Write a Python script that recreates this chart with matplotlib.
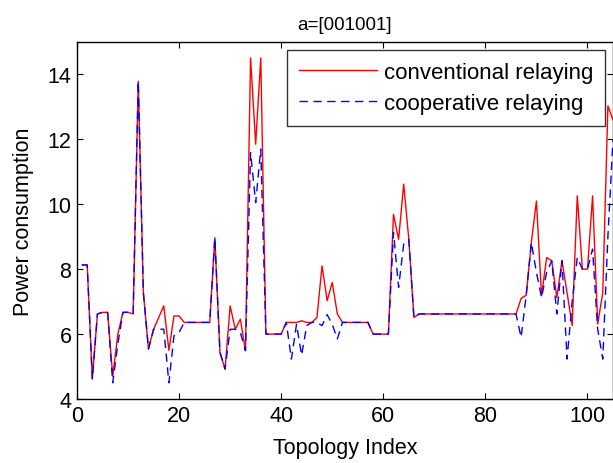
import matplotlib
matplotlib.use("Agg")
import matplotlib.pyplot as plt
import numpy as np

plt.rcParams['font.family'] = ['Liberation Sans', 'DejaVu Sans']

topology_index = list(range(1, 106))

conventional = [
    8.13, 8.13, 4.62, 6.62, 6.67, 6.67, 4.70, 6.00, 6.67, 6.67,
    6.62, 13.79, 7.28, 5.54, 6.15, 6.51, 6.87, 5.50, 6.56, 6.56,
    6.36, 6.36, 6.36, 6.36, 6.36, 6.36, 8.97, 5.44, 4.92, 6.87,
    6.15, 6.46, 5.49, 14.51, 11.85, 14.51, 6.00, 6.00, 6.00, 6.00,
    6.36, 6.36, 6.36, 6.41, 6.36, 6.36, 6.51, 8.10, 7.03, 7.59,
    6.62, 6.36, 6.36, 6.36, 6.36, 6.36, 6.36, 6.00, 6.00, 6.00,
    6.00, 9.69, 8.92, 10.62, 8.92, 6.51, 6.62, 6.62, 6.62, 6.62,
    6.62, 6.62, 6.62, 6.62, 6.62, 6.62, 6.62, 6.62, 6.62, 6.62,
    6.62, 6.62, 6.62, 6.62, 6.62, 6.62, 7.10, 7.20, 8.82, 10.10,
    7.18, 8.36, 8.26, 7.13, 8.26, 7.28, 6.26, 10.26, 8.00, 8.00,
    10.26, 6.31, 7.28, 13.03, 12.60,
]

cooperative = [
    8.13, 8.13, 4.62, 6.62, 6.67, 6.67, 4.50, 5.70, 6.67, 6.67,
    6.62, 13.79, 7.28, 5.54, 6.15, 6.15, 6.15, 4.50, 5.95, 6.05,
    6.36, 6.36, 6.36, 6.36, 6.36, 6.36, 8.97, 5.44, 4.92, 6.15,
    6.15, 6.05, 5.49, 11.59, 10.05, 11.70, 6.00, 6.00, 6.00, 6.00,
    6.36, 5.23, 6.30, 5.35, 6.26, 6.36, 6.36, 6.26, 6.60, 6.30,
    5.85, 6.36, 6.36, 6.36, 6.36, 6.36, 6.36, 6.00, 6.00, 6.00,
    6.00, 9.13, 7.44, 8.77, 8.92, 6.51, 6.62, 6.62, 6.62, 6.62,
    6.62, 6.62, 6.62, 6.62, 6.62, 6.62, 6.62, 6.62, 6.62, 6.62,
    6.62, 6.62, 6.62, 6.62, 6.62, 6.62, 5.90, 7.20, 8.82, 7.90,
    7.13, 7.90, 8.26, 6.62, 8.26, 5.23, 7.00, 8.36, 8.00, 8.00,
    8.62, 6.15, 5.23, 9.00, 12.00,
]

x_ticks = [0, 20, 40, 60, 80, 100]
y_ticks = [4, 6, 8, 10, 12, 14]

fig = plt.figure(figsize=(6.13, 4.64), dpi=100)
ax = fig.add_axes([77/613, 1 - 400/464, (613 - 77)/613, (400 - 43)/464])

ax.plot(topology_index, conventional, color='red', lw=1.0, label='conventional relaying')
ax.plot(topology_index, cooperative, color='blue', lw=1.0, ls=(0, (6, 4)), label='cooperative relaying')

ax.set_xlim(0, 105)
ax.set_ylim(4, 15)
ax.set_xticks(x_ticks)
ax.set_yticks(y_ticks)
ax.tick_params(direction='in', top=True, right=True, labelsize=15.5, length=4, width=0.8, pad=4)
for s in ax.spines.values():
    s.set_linewidth(1.0)

ax.set_xlabel('Topology Index', fontsize=15.5, labelpad=8)
ax.set_ylabel('Power consumption', fontsize=15.5, labelpad=10)
ax.set_title('a=[001001]', fontsize=13.5, pad=9)

leg = ax.legend(loc='upper right', fontsize=16, frameon=True, fancybox=False, edgecolor='black',
                handlelength=3.5, handletextpad=0.3, borderpad=0.55, labelspacing=0.45,
                borderaxespad=0.35)
leg.get_frame().set_linewidth(1.0)

fig.savefig('out.png', dpi=100)
